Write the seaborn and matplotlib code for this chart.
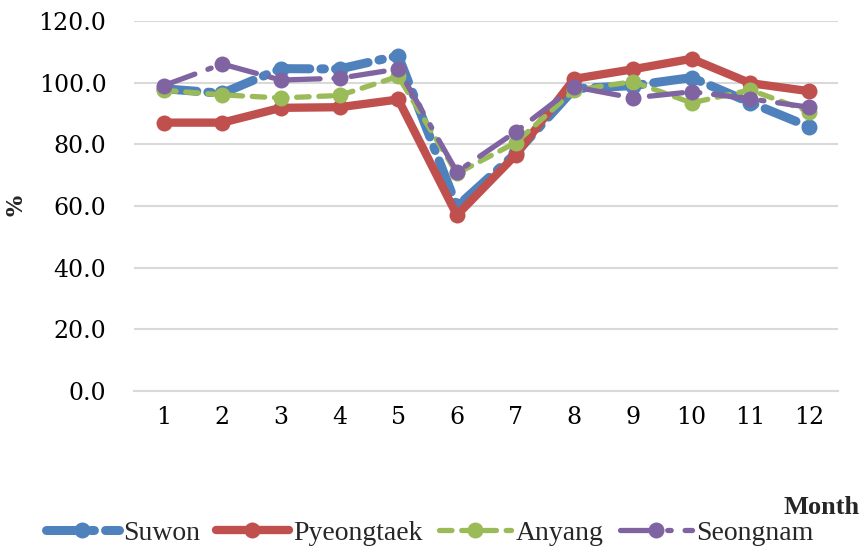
import matplotlib
matplotlib.use("Agg")
import matplotlib.pyplot as plt
from matplotlib.font_manager import FontProperties
import seaborn as sns
import pandas as pd

months = list(range(1, 13))
suwon = [98.0, 96.5, 104.5, 104.4, 108.7, 59.8, 77.0, 98.0, 99.0, 101.6, 93.5, 85.7]
pyeongtaek = [87.0, 87.0, 91.8, 92.0, 94.5, 57.0, 76.5, 101.2, 104.3, 107.7, 99.8, 97.2]
anyang = [97.5, 96.0, 95.0, 95.8, 102.0, 70.5, 80.5, 97.5, 100.3, 93.4, 97.6, 90.6]
seongnam = [99.0, 106.0, 100.8, 101.4, 104.4, 71.0, 84.0, 98.6, 95.0, 97.0, 94.7, 92.0]

series = {
    "Suwon": suwon,
    "Pyeongtaek": pyeongtaek,
    "Anyang": anyang,
    "Seongnam": seongnam,
}
colors = {"Suwon": "#4F81BD", "Pyeongtaek": "#C0504D", "Anyang": "#9BBB59", "Seongnam": "#8064A2"}
widths = {"Suwon": 6.5, "Pyeongtaek": 6.0, "Anyang": 3.8, "Seongnam": 3.8}
dash_styles = {
    "Suwon": (0, (24, 8, 2.5, 8)),
    "Pyeongtaek": "-",
    "Anyang": (0, (9, 7)),
    "Seongnam": (0, (24, 10, 2.5, 10)),
}

sns.set_theme(style="white")
plt.rcParams["font.family"] = ["DejaVu Serif"]
plt.rcParams["lines.scale_dashes"] = False

fig, ax = plt.subplots(figsize=(8.66, 5.49), dpi=100)
fig.subplots_adjust(left=0.155, right=0.968, top=0.962, bottom=0.288)

for name, vals in series.items():
    df = pd.DataFrame({"Month": months, "value": vals})
    sns.lineplot(data=df, x="Month", y="value", ax=ax, color=colors[name],
                 linewidth=widths[name], linestyle=dash_styles[name],
                 marker="o", markersize=11.5, markeredgewidth=0,
                 solid_capstyle="round", dash_capstyle="round", label=name)

ax.set_xlim(0.5, 12.5)
ax.set_ylim(0, 120)
yt = [0, 20, 40, 60, 80, 100, 120]
ax.set_yticks(yt)
ax.set_yticklabels([f"{v:.1f}" for v in yt])
ax.set_xticks(months)
ax.set_xticklabels([str(m) for m in months])
ax.yaxis.grid(True, color="#D9D9D9", linewidth=1.5)
ax.set_axisbelow(True)
for s in ["top", "right", "left"]:
    ax.spines[s].set_visible(False)
ax.spines["bottom"].set_color("#D9D9D9")
ax.spines["bottom"].set_linewidth(1.5)
ax.tick_params(axis="both", length=0, labelsize=17, colors="black", pad=11)
ax.tick_params(axis="y", pad=20)
ax.set_xlabel("")
ax.set_ylabel("%", fontsize=16, fontweight="bold", labelpad=8)

fig.text(0.993, 0.075, "Month", ha="right", va="center", fontsize=19,
         fontweight="bold", family="Liberation Serif")

legend_font = FontProperties(family="Liberation Serif", size=20)
ax.legend(loc="center", bbox_to_anchor=(0.42, -0.384), ncol=4,
          frameon=False, handlelength=2.6, columnspacing=0.6,
          handletextpad=0.15, prop=legend_font)
plt.savefig("out.png", dpi=100)
